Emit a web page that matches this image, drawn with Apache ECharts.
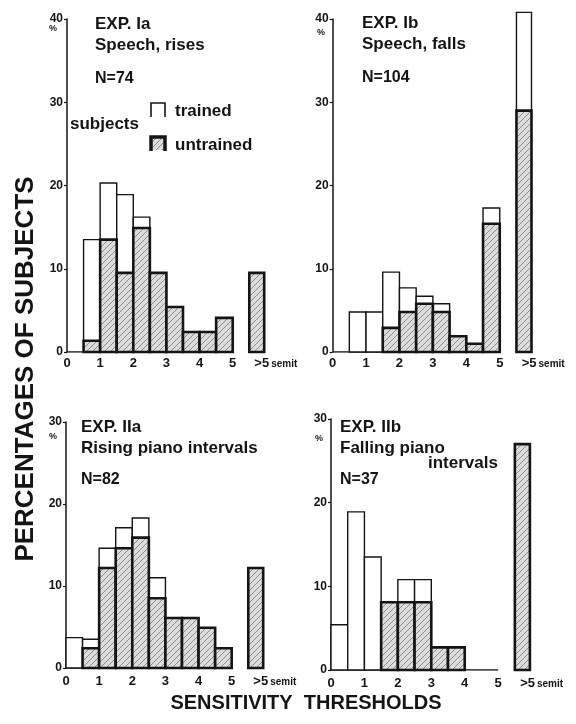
<!DOCTYPE html>
<html>
<head>
<meta charset="utf-8">
<script src="https://cdn.jsdelivr.net/npm/echarts@6/dist/echarts.min.js"></script>
<style>
  html, body { margin: 0; padding: 0; background: #fff; }
  #container { width: 576px; height: 724px; }
</style>
</head>
<body>
<div id="container"></div>
<script>
// lower edge of each bin in semitones; the last one is the ">5 semit" bar
var binStarts = [0, 0.5, 1, 1.5, 2, 2.5, 3, 3.5, 4, 4.5, 5.5];
var xTicks = [0, 1, 2, 3, 4, 5];
var overLabelAt = 6.3;

// percentages: hatched (untrained) part and whole bar height
var iaUntrained = [0, 1.35, 13.5, 9.5, 14.9, 9.5, 5.4, 2.4, 2.4, 4.1, 9.5];
var iaTotal     = [0, 13.5, 20.3, 18.9, 16.2, 9.5, 5.4, 2.4, 2.4, 4.1, 9.5];

var ibUntrained = [0, 0, 0, 2.9, 4.8, 5.8, 4.8, 1.9, 1.0, 15.4, 29];
var ibTotal     = [0, 4.8, 4.8, 9.6, 7.7, 6.7, 5.8, 1.9, 1.0, 17.3, 40.8];

var iiaUntrained = [0, 2.4, 12.2, 14.6, 15.9, 8.5, 6.1, 6.1, 4.9, 2.4, 12.2];
var iiaTotal     = [3.7, 3.5, 14.6, 17.1, 18.3, 11.0, 6.1, 6.1, 4.9, 2.4, 12.2];

var iibUntrained = [0, 0, 0, 8.1, 8.1, 8.1, 2.7, 2.7, 0, 0, 27];
var iibTotal     = [5.4, 18.9, 13.5, 8.1, 10.8, 10.8, 2.7, 2.7, 0, 0, 27];

var FONT = 'Liberation Sans';
var INK = '#141414';

// hatch pattern for the untrained part
var hatch = document.createElement('canvas');
hatch.width = 6; hatch.height = 6;
var g = hatch.getContext('2d');
g.fillStyle = '#dcdcdc';
g.fillRect(0, 0, 6, 6);
g.strokeStyle = '#8c8c8c';
g.lineWidth = 1;
g.beginPath();
g.moveTo(0, 6); g.lineTo(6, 0);
g.moveTo(-3, 3); g.lineTo(3, -3);
g.moveTo(3, 9); g.lineTo(9, 3);
g.stroke();
var hatchFill = { image: hatch, repeat: 'repeat' };

var panels = [
    { left: 67, top: 19, width: 232, height: 333, max: 40, unt: iaUntrained, tot: iaTotal },
    { left: 332.6, top: 19, width: 234, height: 333, max: 40, unt: ibUntrained, tot: ibTotal },
    { left: 66, top: 422, width: 232, height: 246, max: 30, unt: iiaUntrained, tot: iiaTotal },
    { left: 331, top: 419, width: 234, height: 251, max: 30, unt: iibUntrained, tot: iibTotal }
];

var renderBar = function (kind) {
    return function (params, api) {
        var x0 = api.value(0), lo = api.value(1), hi = api.value(2);
        if (!(hi > lo)) return null;
        var w = x0 > 5 ? 0.45 : 0.5;
        var a = api.coord([x0, lo]);
        var b = api.coord([x0 + w, hi]);
        return {
            type: 'rect',
            shape: { x: a[0], y: b[1], width: b[0] - a[0], height: a[1] - b[1] },
            style: kind === 'u'
                ? { fill: hatchFill, stroke: INK, lineWidth: 2.6 }
                : { fill: '#fff', stroke: INK, lineWidth: 1.4 }
        };
    };
};

var grids = [], xAxes = [], yAxes = [], series = [];
panels.forEach(function (p, i) {
    grids.push({ left: p.left, top: p.top, width: p.width, height: p.height });
    xAxes.push({
        type: 'value', gridIndex: i, min: 0, max: 7,
        axisLine: { show: false }, axisTick: { show: false }, splitLine: { show: false },
        axisLabel: {
            customValues: xTicks.concat([overLabelAt]),
            margin: i < 2 ? 5 : 7,
            color: INK, fontFamily: FONT, fontWeight: 'bold', fontSize: 13,
            formatter: function (v) { return v > 5 ? '{a|>5}{b|semit}' : String(v); },
            rich: {
                a: { fontFamily: FONT, fontWeight: 'bold', fontSize: 13, color: INK },
                b: { fontFamily: FONT, fontWeight: 'bold', fontSize: 10, color: INK, padding: [2, 0, 0, 2] }
            }
        }
    });
    yAxes.push({
        type: 'value', gridIndex: i, min: 0, max: p.max, interval: 10,
        axisLine: { show: true, lineStyle: { color: INK, width: 1.5 } },
        axisTick: { show: true, length: 3, lineStyle: { color: INK, width: 1.2 } },
        splitLine: { show: false },
        axisLabel: { margin: 4, color: INK, fontFamily: FONT, fontWeight: 'bold', fontSize: 12 }
    });
    series.push({
        type: 'line', xAxisIndex: i, yAxisIndex: i, data: [[0, 0], [5, 0]],
        symbol: 'none', silent: true, z: 1,
        lineStyle: { color: INK, width: 1.5 }
    });
    series.push({
        type: 'custom', name: 'trained', xAxisIndex: i, yAxisIndex: i, z: 2,
        renderItem: renderBar('t'),
        encode: { x: 0, y: [1, 2] },
        data: binStarts.map(function (x, k) { return [x, p.unt[k], p.tot[k]]; })
    });
    series.push({
        type: 'custom', name: 'untrained', xAxisIndex: i, yAxisIndex: i, z: 3,
        renderItem: renderBar('u'),
        encode: { x: 0, y: [1, 2] },
        data: binStarts.map(function (x, k) { return [x, 0, p.unt[k]]; })
    });
});

var txt = function (x, y, s, size, extra) {
    var o = {
        type: 'text', x: x, y: y,
        style: { text: s, fill: INK, font: 'bold ' + size + 'px "' + FONT + '"', textVerticalAlign: 'middle' }
    };
    if (extra) for (var k in extra) o.style[k] = extra[k];
    return o;
};

var graphics = [
    txt(95, 24, 'EXP. Ia', 17),
    txt(95, 45, 'Speech, rises', 17),
    txt(95, 79, 'N=74', 16),
    txt(70, 124, 'subjects', 17),
    txt(175, 111, 'trained', 17),
    txt(175, 145, 'untrained', 17),
    txt(362, 23, 'EXP. Ib', 17),
    txt(362, 44, 'Speech, falls', 17),
    txt(362, 78, 'N=104', 16),
    txt(81, 427, 'EXP. IIa', 17),
    txt(81, 448, 'Rising piano intervals', 17),
    txt(81, 480, 'N=82', 16),
    txt(340, 427, 'EXP. IIb', 17),
    txt(340, 448, 'Falling piano', 17),
    txt(428, 463, 'intervals', 17),
    txt(340, 480, 'N=37', 16),
    txt(57, 29, '%', 9, { textAlign: 'right' }),
    txt(325, 33, '%', 9, { textAlign: 'right' }),
    txt(57, 437, '%', 9, { textAlign: 'right' }),
    txt(323, 439, '%', 9, { textAlign: 'right' }),
    // legend keys
    { type: 'polyline', shape: { points: [[151, 117], [151, 103], [165, 103], [165, 117]] },
      style: { stroke: INK, lineWidth: 1.6, fill: null } },
    { type: 'rect', shape: { x: 151, y: 137, width: 14, height: 13 }, style: { fill: hatchFill } },
    { type: 'polyline', shape: { points: [[151, 151], [151, 137], [165, 137], [165, 151]] },
      style: { stroke: INK, lineWidth: 3.5, fill: null } },
    // axis titles
    txt(26, 369, 'PERCENTAGES OF SUBJECTS', 26, { textAlign: 'center' }),
    txt(306, 703, 'SENSITIVITY  THRESHOLDS', 20, { textAlign: 'center' })
];
graphics[graphics.length - 2].rotation = Math.PI / 2;

var option = {
    animation: false,
    backgroundColor: '#fff',
    grid: grids,
    xAxis: xAxes,
    yAxis: yAxes,
    series: series,
    graphic: graphics
};

var myChart = echarts.init(document.getElementById('container'));
myChart.setOption(option);
</script>
</body>
</html>
